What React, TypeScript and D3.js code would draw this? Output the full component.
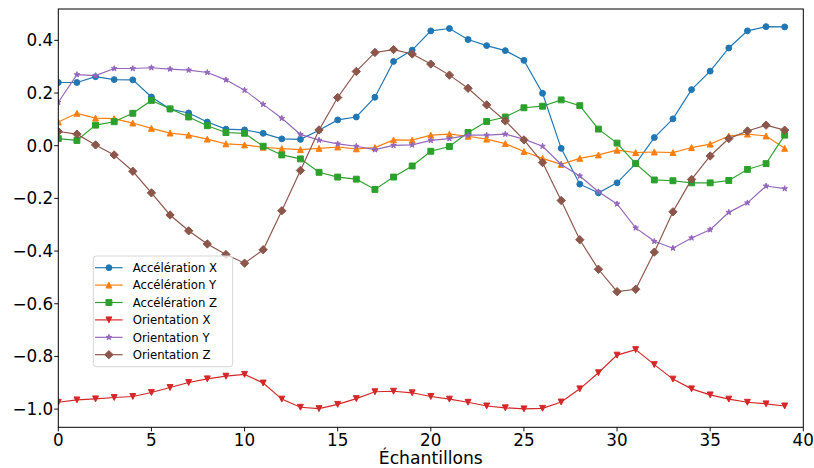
import React from "react";
import * as d3 from "d3";

const samples = d3.range(40);
const accX = [0.24, 0.24, 0.262, 0.251, 0.25, 0.185, 0.139, 0.124, 0.09, 0.063, 0.06, 0.047, 0.026, 0.024, 0.059, 0.098, 0.109, 0.184, 0.32, 0.363, 0.436, 0.445, 0.403, 0.38, 0.361, 0.324, 0.199, -0.01, -0.146, -0.179, -0.141, -0.068, 0.031, 0.102, 0.213, 0.283, 0.371, 0.436, 0.452, 0.451];
const accY = [0.09, 0.123, 0.105, 0.103, 0.086, 0.066, 0.048, 0.04, 0.025, 0.007, 0.003, -0.006, -0.011, -0.015, -0.01, -0.005, -0.012, -0.007, 0.022, 0.021, 0.04, 0.044, 0.036, 0.025, 0.008, -0.022, -0.048, -0.071, -0.048, -0.035, -0.017, -0.026, -0.024, -0.026, -0.007, 0.006, 0.037, 0.044, 0.037, -0.01];
const accZ = [0.027, 0.02, 0.078, 0.091, 0.123, 0.172, 0.14, 0.109, 0.076, 0.05, 0.047, -0.002, -0.035, -0.05, -0.101, -0.119, -0.127, -0.166, -0.119, -0.077, -0.021, -0.003, 0.05, 0.092, 0.109, 0.144, 0.15, 0.174, 0.152, 0.063, 0.01, -0.068, -0.13, -0.133, -0.141, -0.141, -0.132, -0.09, -0.068, 0.04];
const oriX = [-0.974, -0.965, -0.961, -0.956, -0.952, -0.937, -0.918, -0.899, -0.885, -0.875, -0.868, -0.901, -0.962, -0.993, -0.998, -0.982, -0.96, -0.934, -0.932, -0.938, -0.952, -0.962, -0.974, -0.988, -0.995, -0.999, -0.997, -0.973, -0.923, -0.862, -0.795, -0.774, -0.831, -0.886, -0.923, -0.946, -0.962, -0.974, -0.98, -0.988];
const oriY = [0.165, 0.27, 0.266, 0.293, 0.293, 0.296, 0.291, 0.287, 0.278, 0.25, 0.211, 0.157, 0.104, 0.043, 0.021, 0.007, -0.002, -0.015, 0.001, 0.003, 0.02, 0.027, 0.04, 0.04, 0.044, 0.025, -0.002, -0.071, -0.115, -0.175, -0.221, -0.312, -0.363, -0.389, -0.35, -0.319, -0.253, -0.217, -0.153, -0.163];
const oriZ = [0.054, 0.044, 0.003, -0.035, -0.097, -0.179, -0.263, -0.323, -0.373, -0.413, -0.446, -0.395, -0.247, -0.094, 0.06, 0.183, 0.282, 0.354, 0.365, 0.348, 0.31, 0.268, 0.218, 0.155, 0.094, 0.022, -0.064, -0.208, -0.357, -0.469, -0.554, -0.545, -0.404, -0.251, -0.128, -0.039, 0.027, 0.056, 0.078, 0.059];

const seriesNames = ["Accélération X", "Accélération Y", "Accélération Z", "Orientation X", "Orientation Y", "Orientation Z"];
const seriesValues = [accX, accY, accZ, oriX, oriY, oriZ];
const seriesColors = ["#1f77b4", "#ff7f0e", "#2ca02c", "#d62728", "#9467bd", "#8c564b"];
const seriesMarkers = ["circle", "triangleUp", "square", "triangleDown", "star", "diamond"];

const xTicks = [0, 5, 10, 15, 20, 25, 30, 35, 40];
const yTicks = [-1.0, -0.8, -0.6, -0.4, -0.2, 0.0, 0.2, 0.4];

const W = 814, H = 468;
const L = 58.3, R = 803.3, T = 9, B = 427.3;
const MS = 5.9;
const FONT = "DejaVu Sans, sans-serif";

function markerPath(kind: string, s: number): string {
  const h = s / 2;
  switch (kind) {
    case "circle": {
      const p = d3.path();
      p.arc(0, 0, h, 0, Math.PI * 2);
      p.closePath();
      return p.toString();
    }
    case "triangleUp":
      return `M0,${-h}L${-h},${h}L${h},${h}Z`;
    case "triangleDown":
      return `M0,${h}L${-h},${-h}L${h},${-h}Z`;
    case "square":
      return `M${-h},${-h}L${h},${-h}L${h},${h}L${-h},${h}Z`;
    case "diamond": {
      const d = h * Math.SQRT2;
      return `M0,${-d}L${d},0L0,${d}L${-d},0Z`;
    }
    case "star": {
      const inner = h * 0.381966;
      const pts: string[] = [];
      for (let i = 0; i < 10; i++) {
        const r = i % 2 === 0 ? h : inner;
        const a = -Math.PI / 2 + (i * Math.PI) / 5;
        pts.push(`${(r * Math.cos(a)).toFixed(3)},${(r * Math.sin(a)).toFixed(3)}`);
      }
      return "M" + pts.join("L") + "Z";
    }
  }
  return "";
}

export default function App() {
  const x = d3.scaleLinear().domain([0, 40]).range([L, R]);
  const y = d3.scaleLinear().domain([-1.069, 0.519]).range([B, T]);
  const line = d3.line<number>().x((_, i) => x(samples[i])).y((d) => y(d));
  const fmt = (v: number) => (v < 0 ? "\u2212" : "") + Math.abs(v).toFixed(1);

  const legX = 93.3, legY = 256, legW = 139.4, legH = 110.7;
  const rowY0 = 267.7, rowDy = 17.4;

  return (
    <svg width={W} height={H} style={{ position: "absolute", left: 0, top: 0, background: "#fff" }} fontFamily={FONT}>
      <rect x={0} y={0} width={W} height={H} fill="#fff" />
      <defs>
        <clipPath id="plotclip">
          <rect x={L} y={T} width={R - L} height={B - T} />
        </clipPath>
      </defs>
      <g clipPath="url(#plotclip)">
        {seriesValues.map((vals, si) => (
          <g key={si}>
            <path d={line(vals) || ""} fill="none" stroke={seriesColors[si]} strokeWidth={1.17} />
            {vals.map((v, i) => (
              <path
                key={i}
                d={markerPath(seriesMarkers[si], MS)}
                transform={`translate(${x(samples[i])},${y(v)})`}
                fill={seriesColors[si]}
                stroke={seriesColors[si]}
                strokeWidth={1}
              />
            ))}
          </g>
        ))}
      </g>
      {/* spines */}
      <rect x={L} y={T} width={R - L} height={B - T} fill="none" stroke="#000" strokeWidth={1} />
      {/* x ticks */}
      {xTicks.map((t) => (
        <g key={t}>
          <line x1={x(t)} x2={x(t)} y1={B} y2={B + 4.1} stroke="#000" strokeWidth={0.94} />
          <text x={x(t)} y={446} textAnchor="middle" fontSize={16.8} fill="#000">
            {t}
          </text>
        </g>
      ))}
      {/* y ticks */}
      {yTicks.map((t) => (
        <g key={t}>
          <line x1={L - 4.1} x2={L} y1={y(t)} y2={y(t)} stroke="#000" strokeWidth={0.94} />
          <text x={53.3} y={y(t) + 6} textAnchor="end" fontSize={16.8} fill="#000">
            {fmt(t)}
          </text>
        </g>
      ))}
      <text x={(L + R) / 2} y={464} textAnchor="middle" fontSize={17.2} fill="#000">
        Échantillons
      </text>
      {/* legend */}
      <rect x={legX} y={legY} width={legW} height={legH} rx={3} ry={3} fill="#fff" fillOpacity={0.8} stroke="#d6d6d6" strokeWidth={1} />
      {seriesNames.map((name, si) => {
        const cy = rowY0 + si * rowDy;
        return (
          <g key={name}>
            <line x1={95} x2={122.7} y1={cy} y2={cy} stroke={seriesColors[si]} strokeWidth={1.17} />
            <path d={markerPath(seriesMarkers[si], MS)} transform={`translate(108.9,${cy})`} fill={seriesColors[si]} stroke={seriesColors[si]} strokeWidth={1} />
            <text x={132.7} y={cy + 4.2} fontSize={11.7} fill="#000">
              {name}
            </text>
          </g>
        );
      })}
    </svg>
  );
}
